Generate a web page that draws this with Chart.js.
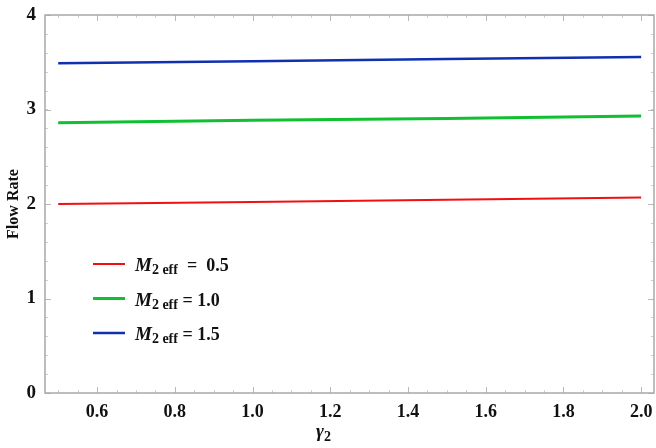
<!DOCTYPE html>
<html>
<head>
<meta charset="utf-8">
<script src="https://cdn.jsdelivr.net/npm/chart.js@4.4.1/dist/chart.umd.min.js"></script>
<style>
  html, body { margin: 0; padding: 0; background: #fff; }
  #wrap { width: 656px; height: 448px; }
</style>
</head>
<body>
<div id="wrap"><canvas id="flowChart" width="656" height="448"></canvas></div>
<script>
// gamma_2 values and flow rate
var gamma2 = [0.5, 1.0, 1.5, 2.0];
var flowM05 = [2.00, 2.02, 2.045, 2.07];
var flowM10 = [2.86, 2.885, 2.905, 2.93];
var flowM15 = [3.49, 3.51, 3.535, 3.555];

var mLabels = ["0.5", "1.0", "1.5"];
var xTicks = [0.6, 0.8, 1.0, 1.2, 1.4, 1.6, 1.8, 2.0];
var yTicks = [0, 1, 2, 3, 4];

var serif = "'Liberation Serif', 'Times New Roman', serif";

function toPoints(ys) {
    return gamma2.map(function (x, i) { return { x: x, y: ys[i] }; });
}

// frame, inward ticks and the legend with subscripts
var framePlugin = {
    id: 'frame',
    beforeDatasetsDraw: function (chart) {
        var ctx = chart.ctx;
        var a = chart.chartArea;
        var xs = chart.scales.x, ys = chart.scales.y;
        ctx.save();
        ctx.strokeStyle = '#d0d0d0';
        ctx.lineWidth = 1;
        // minor ticks
        for (var v = 0.5; v <= 2.0001; v += 0.05) {
            var px = Math.round(xs.getPixelForValue(v)) + 0.5;
            ctx.beginPath();
            ctx.moveTo(px, a.bottom); ctx.lineTo(px, a.bottom - 3);
            ctx.moveTo(px, a.top); ctx.lineTo(px, a.top + 3);
            ctx.stroke();
        }
        for (var w = 0; w <= 4.0001; w += 0.2) {
            var py = Math.round(ys.getPixelForValue(w)) + 0.5;
            ctx.beginPath();
            ctx.moveTo(a.left, py); ctx.lineTo(a.left + 3, py);
            ctx.moveTo(a.right, py); ctx.lineTo(a.right - 3, py);
            ctx.stroke();
        }
        // major ticks
        ctx.strokeStyle = '#b8b8b8';
        xTicks.forEach(function (t) {
            var px = Math.round(xs.getPixelForValue(t)) + 0.5;
            ctx.beginPath();
            ctx.moveTo(px, a.bottom); ctx.lineTo(px, a.bottom - 6);
            ctx.moveTo(px, a.top); ctx.lineTo(px, a.top + 6);
            ctx.stroke();
        });
        yTicks.forEach(function (t) {
            var py = Math.round(ys.getPixelForValue(t)) + 0.5;
            ctx.beginPath();
            ctx.moveTo(a.left, py); ctx.lineTo(a.left + 6, py);
            ctx.moveTo(a.right, py); ctx.lineTo(a.right - 6, py);
            ctx.stroke();
        });
        ctx.strokeStyle = '#a8a8a8';
        ctx.lineWidth = 1.5;
        ctx.strokeRect(a.left, a.top, a.right - a.left, a.bottom - a.top);
        ctx.restore();
    },
    afterDraw: function (chart) {
        var ctx = chart.ctx;
        ctx.save();
        ctx.textBaseline = 'alphabetic';
        chart.data.datasets.forEach(function (ds, i) {
            var y = 264 + i * 34.5;
            ctx.strokeStyle = ds.borderColor;
            ctx.lineWidth = ds.borderWidth;
            ctx.beginPath();
            ctx.moveTo(93, y); ctx.lineTo(125, y);
            ctx.stroke();
            ctx.fillStyle = '#111';
            var x = 135;
            ctx.font = 'italic bold 19px ' + serif;
            ctx.fillText('M', x, y + 7);
            x += ctx.measureText('M').width;
            ctx.font = 'bold 14px ' + serif;
            ctx.fillText('2 eff', x, y + 10);
            x += ctx.measureText('2 eff').width;
            ctx.font = 'bold 18px ' + serif;
            ctx.fillText(i === 0 ? '  =  ' + mLabels[i] : ' = ' + mLabels[i], x, y + 7);
        });
        // x axis title with subscript
        ctx.font = 'italic bold 19px ' + serif;
        var gw = ctx.measureText('γ').width;
        ctx.fillText('γ', 316, 437);
        ctx.font = 'bold 14px ' + serif;
        ctx.fillText('2', 316 + gw, 441);
        ctx.restore();
    }
};

new Chart("flowChart", {
    type: "line",
    data: {
        datasets: [{
            label: "M2 eff = 0.5",
            data: toPoints(flowM05),
            borderColor: "#f01010",
            borderWidth: 2,
            pointRadius: 0,
            fill: false,
            tension: 0
        }, {
            label: "M2 eff = 1.0",
            data: toPoints(flowM10),
            borderColor: "#10c030",
            borderWidth: 3,
            pointRadius: 0,
            fill: false,
            tension: 0
        }, {
            label: "M2 eff = 1.5",
            data: toPoints(flowM15),
            borderColor: "#1030b0",
            borderWidth: 2.5,
            pointRadius: 0,
            fill: false,
            tension: 0
        }]
    },
    options: {
        responsive: false,
        animation: { duration: 0 },
        layout: { padding: { top: 15, right: 2, left: 0, bottom: 0 } },
        plugins: {
            legend: { display: false },
            tooltip: { enabled: false }
        },
        scales: {
            x: {
                type: "linear",
                min: 0.466,
                max: 2.033,
                afterBuildTicks: function (scale) {
                    scale.ticks = xTicks.map(function (v) { return { value: v }; });
                },
                afterFit: function (scale) {
                    scale.height = 55;
                    scale.paddingLeft = 0;
                    scale.paddingRight = 0;
                },
                grid: { display: false, drawTicks: false },
                border: { display: false },
                ticks: {
                    padding: 9,
                    color: "#111",
                    font: { family: serif, size: 18, weight: "bold" },
                    maxRotation: 0,
                    callback: function (v) { return v.toFixed(1); }
                }
            },
            y: {
                min: 0,
                max: 4,
                afterBuildTicks: function (scale) {
                    scale.ticks = yTicks.map(function (v) { return { value: v }; });
                },
                afterFit: function (scale) {
                    scale.width = 45;
                    scale.paddingTop = 0;
                    scale.paddingBottom = 0;
                },
                grid: { display: false, drawTicks: false },
                border: { display: false },
                title: {
                    display: true,
                    text: "Flow Rate",
                    color: "#111",
                    padding: { top: 4, bottom: 0 },
                    font: { family: serif, size: 16, weight: "bold" }
                },
                ticks: {
                    padding: 9,
                    color: "#111",
                    font: { family: serif, size: 19, weight: "bold" },
                    callback: function (v) { return String(v); }
                }
            }
        }
    },
    plugins: [framePlugin]
});
</script>
</body>
</html>
